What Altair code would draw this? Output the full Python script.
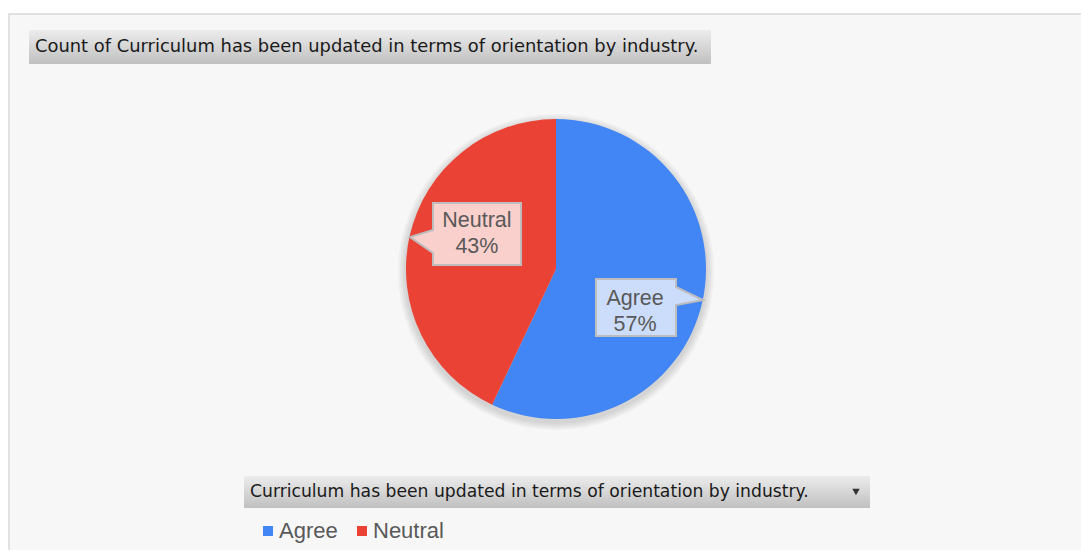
import altair as alt
import pandas as pd

# ---- data ----
categories = ["Agree", "Neutral"]
counts = [57, 43]
colors = ["#4285F4", "#EA4335"]
box_fills = ["#CCDCFB", "#F9D0CC"]
title_text = "Count of Curriculum has been updated in terms of orientation by industry."
field_text = "Curriculum has been updated in terms of orientation by industry."

df = pd.DataFrame({"category": categories, "count": counts})
total = sum(counts)
one = pd.DataFrame({"k": [0]})

W, H = 1073, 542
CX, CY, R = 547, 261, 150
FONT = "Liberation Sans"
HFONT = "DejaVu Sans"
TXT = "#595959"

grad = alt.LinearGradient(
    gradient="linear", x1=0, x2=0, y1=0, y2=1,
    stops=[alt.GradientStop(color="#ececec", offset=0),
           alt.GradientStop(color="#c0c0c0", offset=1)])

bg = alt.Chart(one).mark_rect(fill="#f7f7f7", stroke="#d9d9d9", strokeWidth=1.5).encode(
    x=alt.value(0), x2=alt.value(W + 20), y=alt.value(6), y2=alt.value(H + 20))

title_box = alt.Chart(one).mark_rect(fill=grad).encode(
    x=alt.value(20), x2=alt.value(702), y=alt.value(22), y2=alt.value(56))
title = alt.Chart(one).mark_text(text=title_text, align="left", baseline="middle",
                                 font=HFONT, fontSize=17.9, color="#1a1a1a").encode(
    x=alt.value(26), y=alt.value(39))

shadows = [
    alt.Chart(one).mark_arc(theta=0, theta2=6.2832, outerRadius=R + k, color="#000000",
                            opacity=0.035).encode(x=alt.value(CX), y=alt.value(CY + 3))
    for k in (2, 4, 6, 8)
]

pie = alt.Chart(df).mark_arc(outerRadius=R).encode(
    theta=alt.Theta("count:Q", stack=True),
    color=alt.Color("category:N", scale=alt.Scale(domain=categories, range=colors),
                    legend=alt.Legend(orient="none", legendX=248, legendY=512,
                                      direction="horizontal", title=None,
                                      symbolType="square", symbolSize=100,
                                      symbolStrokeWidth=0,
                                      labelFontSize=22, labelFont=FONT, labelColor=TXT,
                                      labelOffset=0, columnPadding=13)),
    order=alt.Order("category:N"),
    x=alt.value(CX), y=alt.value(CY))

neutral_path = "M-0.88,-0.62 L0.88,-0.62 L0.88,0.62 L-0.88,0.62 L-0.88,0.38 L-1.34,0.06 L-0.88,-0.08 Z"
agree_path = "M-0.8,-0.57 L0.8,-0.57 L0.8,-0.41 L1.34,-0.15 L0.8,-0.05 L0.8,0.57 L-0.8,0.57 Z"

box_neutral = alt.Chart(one).mark_point(shape=neutral_path, size=10000, filled=True,
                                        fill=box_fills[1], stroke="#bdbdbd", strokeWidth=2,
                                        opacity=1).encode(x=alt.value(468), y=alt.value(226))
box_agree = alt.Chart(one).mark_point(shape=agree_path, size=10000, filled=True,
                                      fill=box_fills[0], stroke="#bdbdbd", strokeWidth=2,
                                      opacity=1).encode(x=alt.value(627), y=alt.value(299.5))


def label_layer(cat, dx, dy):
    return alt.Chart(df).transform_joinaggregate(
        total="sum(count)"
    ).transform_stack(
        stack="count", groupby=[], as_=["s0", "s1"],
        sort=[alt.SortField("category", order="ascending")]
    ).transform_calculate(
        mid="(datum.s0 + datum.s1) / 2",
        label="datum.category + '\\n' + format(datum.count / datum.total, '.0%')"
    ).transform_filter(
        alt.datum.category == cat
    ).mark_text(radius=80, dx=dx, dy=dy, lineBreak="\n", fontSize=21.5, font=FONT,
                color=TXT, lineHeight=26, baseline="middle", align="center").encode(
        theta=alt.Theta("mid:Q", scale=alt.Scale(domain=[0, total]), stack=None),
        text="label:N",
        x=alt.value(CX), y=alt.value(CY))


lab_agree = label_layer("Agree", 1, 13)
lab_neutral = label_layer("Neutral", -1, -31)

leg_box = alt.Chart(one).mark_rect(fill=grad).encode(
    x=alt.value(235), x2=alt.value(861), y=alt.value(468), y2=alt.value(500))
leg_text = alt.Chart(one).mark_text(text=field_text, align="left", baseline="middle",
                                    font=HFONT, fontSize=17.2, color="#1a1a1a").encode(
    x=alt.value(241), y=alt.value(484))
tri = alt.Chart(one).mark_point(shape="triangle-down", filled=True, size=55,
                                color="#333333", opacity=1).encode(
    x=alt.value(847), y=alt.value(484))

chart = alt.layer(
    bg, title_box, title, *shadows, pie, box_neutral, box_agree,
    lab_agree, lab_neutral, leg_box, leg_text, tri
).resolve_scale(theta="independent").properties(
    width=W, height=H, padding=0,
    autosize=alt.AutoSizeParams(type="fit", contains="padding"),
    background="white"
).configure_view(stroke=None)

chart.save("out.html", embed_options={"renderer": "svg", "actions": False})
